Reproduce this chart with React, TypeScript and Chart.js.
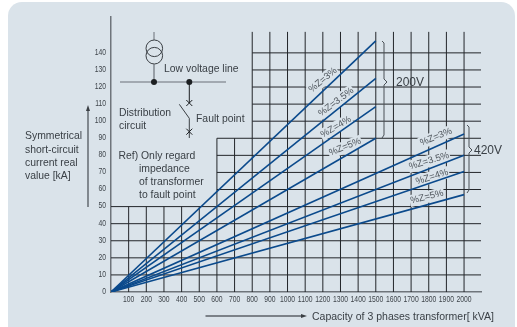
import React, { useEffect, useRef } from "react";
import { Chart, registerables } from "chart.js";

Chart.register(...registerables);

// Axis ticks
const xTickValues = [100, 200, 300, 400, 500, 600, 700, 800, 900, 1000, 1100, 1200, 1300, 1400, 1500, 1600, 1700, 1800, 1900, 2000];
const yTickValues = [0, 10, 20, 30, 40, 50, 60, 70, 80, 90, 100, 110, 120, 130, 140];

// Series: 200 V family ends at 1500 kVA, 420 V family at 2000 kVA
const capacity200V = [0, 1500];
const capacity420V = [0, 2000];
const z3at200V = [0, 147];
const z35at200V = [0, 125];
const z4at200V = [0, 108.5];
const z5at200V = [0, 90];
const z3at420V = [0, 92.5];
const z35at420V = [0, 80];
const z4at420V = [0, 70.5];
const z5at420V = [0, 57];

// Staircase grid
const X_MAX = 2096;
const Y_MAX = 161;
const gridTop = 152.3;
const shortVerticals = [100, 200, 300, 400, 500];
const midVerticals = [600, 700];
const tallVerticals = [800, 900, 1000, 1100, 1200, 1300, 1400, 1500, 1600, 1700, 1800, 1900, 2000];
const wideHorizontals = [10, 20, 30, 40, 50];
const midHorizontals = [60, 70, 80, 90];
const narrowHorizontals = [100, 110, 120, 130, 140];

const PANEL = "#dae3ea";
const TEXT = "#3a4046";
const BLUE = "#0b4a8c";
const FONT = '"Liberation Sans", Arial, sans-serif';

const seg = (x0: number, y0: number, x1: number, y1: number) => ({
  data: [{ x: x0, y: y0 }, { x: x1, y: y1 }],
  borderColor: "#23262a",
  borderWidth: 1,
  order: 2,
  pointRadius: 0,
  showLine: true,
});

const curve = (xs: number[], ys: number[]) => ({
  data: xs.map((x, i) => ({ x, y: ys[i] })),
  borderColor: BLUE,
  borderWidth: 1.6,
  order: 1,
  pointRadius: 0,
  showLine: true,
});

// Rotated series captions (pixel centre, angle in degrees)
const zLabels: [string, number, number, number][] = [
  ["%Z=3%", 323, 80, -40],
  ["%Z=3.5%", 336, 102, -37],
  ["%Z=4%", 336, 127, -30],
  ["%Z=5%", 345, 147, -22],
  ["%Z=3%", 436, 137, -22],
  ["%Z=3.5%", 429, 161, -17],
  ["%Z=4%", 432, 177, -17],
  ["%Z=5%", 427, 197, -14],
];

const plainTexts: [string, number, number, number][] = [
  ["Low voltage line", 164, 72, 10.4],
  ["Distribution", 119, 116, 10.4],
  ["circuit", 119, 129, 10.4],
  ["Fault point", 196, 122, 10.4],
  ["Ref) Only regard", 118.5, 159, 10.4],
  ["impedance", 139, 172, 10.4],
  ["of transformer", 139, 185, 10.4],
  ["to fault point", 139, 198, 10.4],
  ["Symmetrical", 25, 139, 10.4],
  ["short-circuit", 25, 152.5, 10.4],
  ["current real", 25, 165.5, 10.4],
  ["value [kA]", 25, 179, 10.4],
  ["200V", 396, 86, 12],
  ["420V", 474, 154, 12],
  ["Capacity of 3 phases transformer[ kVA]", 312, 320, 10.5],
];

let knocked = false;

const paintPlugin = {
  id: "paint",
  beforeDraw(chart: any) {
    knocked = false;
    const c = chart.ctx;
    c.save();
    c.fillStyle = "#ffffff";
    c.fillRect(0, 0, 517, 327);
    c.fillStyle = PANEL;
    c.beginPath();
    c.roundRect(8, 2, 507, 340, 14);
    c.fill();
    c.restore();
  },
  beforeDatasetDraw(chart: any, args: any) {
    if (knocked || chart.data.datasets[args.index].order !== 1) return;
    knocked = true;
    const c = chart.ctx;
    c.save();
    c.font = `9.5px ${FONT}`;
    c.fillStyle = PANEL;
    for (const [t, x, y, a] of zLabels) {
      const w = c.measureText(t).width + 2;
      c.save();
      c.translate(x, y);
      c.rotate((a * Math.PI) / 180);
      c.fillRect(-w / 2, -6, w, 12);
      c.restore();
    }
    c.restore();
  },
  afterDatasetsDraw(chart: any) {
    const c = chart.ctx;
    c.save();

    // Condensed tick labels
    c.font = `8.5px ${FONT}`;
    c.fillStyle = "#3f454b";
    c.textBaseline = "middle";
    const squeeze = 0.8;
    const xs = chart.scales.x;
    c.textAlign = "center";
    for (const tick of xs.ticks) {
      c.save();
      c.translate(xs.getPixelForValue(tick.value), 299.5);
      c.scale(squeeze, 1);
      c.fillText(tick.label, 0, 0);
      c.restore();
    }
    const ys = chart.scales.y;
    c.textAlign = "right";
    for (const tick of ys.ticks) {
      c.save();
      c.translate(106, ys.getPixelForValue(tick.value) - 0.5);
      c.scale(squeeze, 1);
      c.fillText(tick.label, 0, 0);
      c.restore();
    }

    c.textAlign = "left";
    c.textBaseline = "alphabetic";
    c.fillStyle = TEXT;
    for (const [t, x, y, s] of plainTexts) {
      c.font = `${s}px ${FONT}`;
      c.fillText(t, x, y);
    }
    c.font = `9.5px ${FONT}`;
    c.fillStyle = "#50575e";
    c.textAlign = "center";
    c.textBaseline = "middle";
    for (const [t, x, y, a] of zLabels) {
      c.save();
      c.translate(x, y);
      c.rotate((a * Math.PI) / 180);
      c.fillText(t, 0, 0);
      c.restore();
    }

    // Schematic
    const line = (pts: number[][], color = "#3a3f44", w = 1) => {
      c.strokeStyle = color;
      c.lineWidth = w;
      c.beginPath();
      pts.forEach(([x, y], i) => (i ? c.lineTo(x, y) : c.moveTo(x, y)));
      c.stroke();
    };
    line([[154, 32], [154, 40]], "#6b7178");
    c.strokeStyle = "#3a3f44";
    c.lineWidth = 1;
    for (const cy of [48.3, 55.7]) {
      c.beginPath();
      c.arc(154.3, cy, 8.3, 0, Math.PI * 2);
      c.stroke();
    }
    line([[154, 64], [154, 82]], "#6b7178", 1.2);
    line([[120, 82], [226, 82]], "#6b7178", 1.2);
    c.fillStyle = "#1c1f22";
    for (const x of [154, 189.3]) {
      c.beginPath();
      c.arc(x, 82, 3, 0, Math.PI * 2);
      c.fill();
    }
    line([[189.3, 82], [189.3, 103]], "#1c1f22");
    line([[179.3, 104.3], [189.3, 118.3], [189.3, 138]], "#3a3f44");
    for (const y of [103, 131.7]) {
      line([[186.3, y - 3], [192.3, y + 3]], "#1c1f22");
      line([[192.3, y - 3], [186.3, y + 3]], "#1c1f22");
    }

    // Brackets
    line([[382, 41], [384, 43], [384, 79], [387, 82], [384, 85], [384, 135], [382, 138]], "#4a5056");
    line([[467, 125], [469, 127], [469, 147], [472, 150], [469, 153], [469, 190], [467, 193]], "#4a5056");

    // Axis arrows
    line([[88, 207], [88, 108]], "#5b6167", 1.4);
    c.fillStyle = "#3a3f44";
    c.beginPath();
    c.moveTo(88, 105);
    c.lineTo(86, 111);
    c.lineTo(90, 111);
    c.closePath();
    c.fill();
    line([[205.5, 316], [302, 316]], "#5b6167", 1.4);
    c.beginPath();
    c.moveTo(307, 316);
    c.lineTo(301, 314);
    c.lineTo(301, 318);
    c.closePath();
    c.fill();
    c.restore();
  },
};

export default function App() {
  const ref = useRef<HTMLCanvasElement>(null);
  useEffect(() => {
    if (!ref.current) return;
    const grid = [
      ...shortVerticals.map((x) => seg(x, 0, x, 50)),
      ...midVerticals.map((x) => seg(x, 0, x, 90)),
      ...tallVerticals.map((x) => seg(x, 0, x, gridTop)),
      ...wideHorizontals.map((y) => seg(0, y, X_MAX, y)),
      ...midHorizontals.map((y) => seg(600, y, X_MAX, y)),
      ...narrowHorizontals.map((y) => seg(800, y, X_MAX, y)),
    ];
    const series = [
      curve(capacity200V, z3at200V),
      curve(capacity200V, z35at200V),
      curve(capacity200V, z4at200V),
      curve(capacity200V, z5at200V),
      curve(capacity420V, z3at420V),
      curve(capacity420V, z35at420V),
      curve(capacity420V, z4at420V),
      curve(capacity420V, z5at420V),
    ];
    const chart = new Chart(ref.current, {
      type: "scatter",
      data: { datasets: [...grid, ...series] as any },
      plugins: [paintPlugin as any],
      options: {
        animation: false,
        responsive: false,
        layout: { padding: { left: 8, right: 36, top: 17, bottom: 0 } },
        plugins: { legend: { display: false }, tooltip: { enabled: false } },
        scales: {
          x: {
            type: "linear",
            min: 0,
            max: X_MAX,
            grid: { display: false, drawTicks: false },
            border: { color: "#6f757b", width: 1.5 },
            afterFit: (s: any) => { s.height = 35; },
            afterBuildTicks: (s: any) => { s.ticks = xTickValues.map((value) => ({ value })); },
            ticks: { display: false, callback: (v: any) => String(v), autoSkip: false, maxRotation: 0 },
          },
          y: {
            type: "linear",
            min: 0,
            max: Y_MAX,
            grid: { display: false, drawTicks: false },
            border: { color: "#6f757b", width: 1.5 },
            afterFit: (s: any) => { s.width = 103; },
            afterBuildTicks: (s: any) => { s.ticks = yTickValues.map((value) => ({ value })); },
            ticks: { display: false, callback: (v: any) => String(v), autoSkip: false },
          },
        },
      },
    });
    return () => chart.destroy();
  }, []);
  return (
    <canvas
      ref={ref}
      width={517}
      height={327}
      style={{ position: "absolute", left: 0, top: 0, width: 517, height: 327, display: "block" }}
    />
  );
}
